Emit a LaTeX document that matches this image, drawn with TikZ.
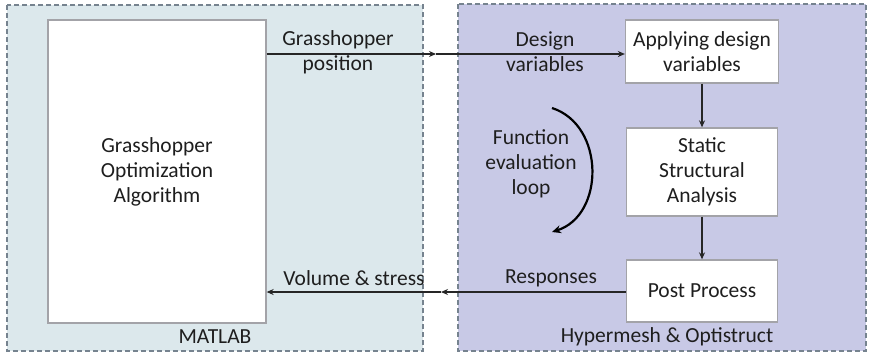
\documentclass[tikz,border=0pt]{standalone}
\usepackage{fontspec}
\setmainfont{Carlito}
\usetikzlibrary{arrows.meta}
\definecolor{matfill}{HTML}{DCE8EC}
\definecolor{hypfill}{HTML}{C8C9E6}
\definecolor{dashcol}{HTML}{76838F}
\definecolor{boxline}{HTML}{A3A3A8}
\definecolor{txt}{HTML}{1E1E1E}
\tikzset{
  region/.style={draw=dashcol, line width=1.4pt, dash pattern=on 5pt off 3pt},
  procbox/.style={draw=boxline, fill=white, line width=1.3pt, align=center, text=txt, inner sep=0pt},
  lbl/.style={align=center, text=txt, font=\fontsize{21.5}{25}\selectfont},
  conn/.style={line width=1.2pt, draw=black!85, -{Stealth[length=7pt,width=6pt]}},
}
\begin{document}
\begin{tikzpicture}[x=1pt,y=-1pt]
\useasboundingbox (0,0) rectangle (870,357);
\fill[white] (0,0) rectangle (870,357);
\draw[region, fill=matfill] (7,5) rectangle (423,351);
\draw[region, fill=hypfill] (458,4) rectangle (866,351);

\node[procbox, minimum width=218pt, minimum height=303pt] (goa) at (157,171.5) {};
\node[lbl] at (157,172) {Grasshopper\\Optimization\\Algorithm};
\node[procbox, minimum width=153pt, minimum height=63pt, lbl] (apply) at (702,51.5) {Applying design\\variables};
\node[procbox, minimum width=151pt, minimum height=88pt, lbl] (static) at (702,172) {Static\\Structural\\Analysis};
\node[procbox, minimum width=151pt, minimum height=62pt, lbl] (post) at (702,291) {Post Process};

\coordinate (gapT) at (436,54);
\coordinate (gapB) at (441,292);
\coordinate (loopA) at (552,108);
\coordinate (loopB) at (552,232);

\draw[conn] (goa.east |- gapT) -- (gapT);
\draw[conn] (gapT) -- (apply.west |- gapT);
\draw[conn] (apply) -- (static);
\draw[conn] (static) -- (post);
\draw[conn] (post.west |- gapB) -- (gapB);
\draw[conn] (gapB) -- (goa.east |- gapB);
\draw[line width=2.2pt, -{Stealth[length=9pt,width=8pt]}] (loopA) .. controls (605,125) and (605,215) .. (loopB);

\node[lbl] (gpos) at (338,52) {Grasshopper\\position};
\node[lbl] (dvar) at (545,52) {Design\\variables};
\node[lbl] (fel) at (531,164) {Function\\evaluation\\loop};
\node[lbl] (vs) at (354,278) {Volume \& stress};
\node[lbl] (resp) at (551,278) {Responses};
\node[lbl] (mat) at (215,337) {MATLAB};
\node[lbl] (hyp) at (667,337) {Hypermesh \& Optistruct};
\end{tikzpicture}
\end{document}
